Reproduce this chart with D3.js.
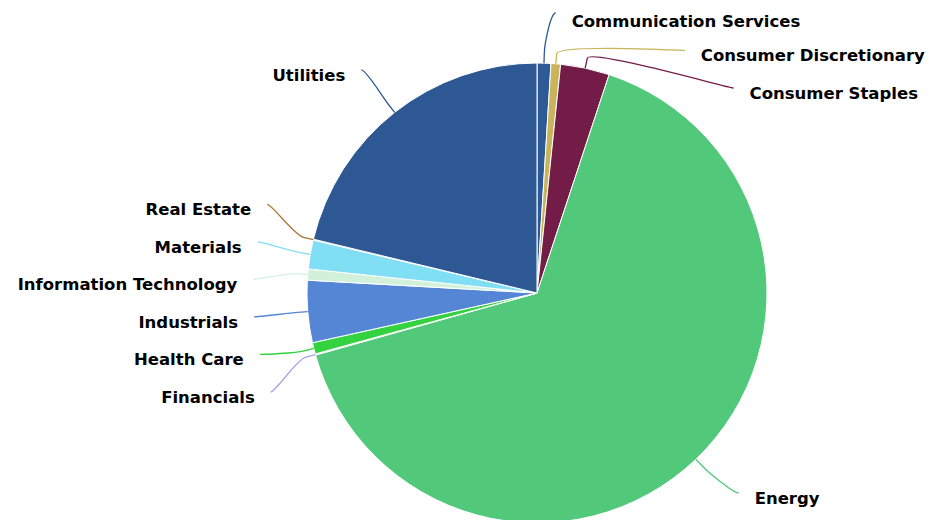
<!DOCTYPE html>
<html>
<head>
<meta charset="utf-8">
<script src="https://cdn.jsdelivr.net/npm/d3@7"></script>
<style>
  body { margin: 0; background: #fff; }
  .lbl { font-family: "DejaVu Sans", sans-serif; font-weight: bold; font-size: 16.5px; fill: #000; }
</style>
</head>
<body>
<svg id="chart" width="935" height="520"></svg>
<script>
// Portfolio weight by GICS sector (%)
const sectors = [
  "Communication Services", "Consumer Discretionary", "Consumer Staples", "Energy",
  "Financials", "Health Care", "Industrials", "Information Technology",
  "Materials", "Real Estate", "Utilities"
];
const weights = [0.97, 0.67, 3.44, 65.6, 0.08, 0.8, 4.36, 0.78, 2.03, 0.06, 21.25];
const sectorColors = [
  "#2d5a97", "#c9b45c", "#741c48", "#52c87a",
  "#a3a3ea", "#33d23e", "#5586d5", "#d2f1db",
  "#80def5", "#a77a33", "#2d5894"
];

const width = 935, height = 520;
const cx = 537, cy = 293, radius = 230;
const labelRadius = 284;   // where connectors end
const slotHeight = 37.5;   // vertical room per label
const yMin = 13, yMax = 493;

const svg = d3.select("#chart");
const g = svg.append("g").attr("transform", `translate(${cx},${cy})`);

const arcs = d3.pie().sort(null).value(d => d)(weights);
const arcGen = d3.arc().innerRadius(0).outerRadius(radius);

g.selectAll("path.slice")
  .data(arcs)
  .join("path")
  .attr("class", "slice")
  .attr("d", arcGen)
  .attr("fill", (d, i) => sectorColors[i])
  .attr("stroke", "#fff")
  .attr("stroke-width", 1)
  .attr("stroke-linejoin", "round");

// label placement: natural position on the outer circle, then spread vertically per side
const items = arcs.map((a, i) => {
  const mid = (a.startAngle + a.endAngle) / 2;
  return {
    i, mid,
    side: mid < Math.PI ? 1 : -1,
    target: -labelRadius * Math.cos(mid)
  };
});

function distribute(list) {
  list.sort((a, b) => a.target - b.target);
  let clusters = list.map(it => ({ items: [it], sum: it.target }));
  const place = c => {
    const n = c.items.length;
    let top = c.sum / n - (n - 1) * slotHeight / 2;
    c.pinnedTop = top < yMin - cy;
    top = Math.max(top, yMin - cy);
    top = Math.min(top, yMax - cy - (n - 1) * slotHeight);
    c.top = top;
  };
  clusters.forEach(place);
  let merged = true;
  while (merged) {
    merged = false;
    for (let k = 0; k < clusters.length - 1; k++) {
      const a = clusters[k], b = clusters[k + 1];
      if (a.top + a.items.length * slotHeight > b.top + 0.001) {
        const c = { items: a.items.concat(b.items), sum: a.sum + b.sum };
        place(c);
        clusters.splice(k, 2, c);
        merged = true;
        break;
      }
    }
  }
  clusters.forEach(c => c.items.forEach((it, j) => {
    it.y = c.top + j * slotHeight;
    it.pinned = c.pinnedTop && j === 0;
  }));
}

distribute(items.filter(d => d.side === 1));
distribute(items.filter(d => d.side === -1));

items.forEach(it => {
  if (it.pinned) {
    // a label held at the top edge stays near its own slice
    it.x = labelRadius * Math.sin(it.mid) + it.side * 10;
  } else {
    it.x = it.side * Math.sqrt(Math.max(0, labelRadius * labelRadius - it.y * it.y));
  }
});

// soft connectors: label end -> curve -> break point just outside the slice -> slice edge
const pt = (ang, rr) => [Math.sin(ang) * rr, -Math.cos(ang) * rr];
g.selectAll("path.connector")
  .data(items)
  .join("path")
  .attr("class", "connector")
  .attr("fill", "none")
  .attr("stroke", d => sectorColors[d.i])
  .attr("stroke-width", 1.3)
  .attr("d", d => {
    const t = pt(d.mid, radius);
    const b = pt(d.mid, radius + 10);
    const p = d3.path();
    p.moveTo(d.x, d.y);
    p.bezierCurveTo(d.x - d.side * 5, d.y, 2 * b[0] - t[0], 2 * b[1] - t[1], b[0], b[1]);
    p.lineTo(t[0], t[1]);
    return p.toString();
  });

g.selectAll("text.lbl")
  .data(items)
  .join("text")
  .attr("class", "lbl")
  .attr("x", d => d.x + d.side * 16)
  .attr("y", d => d.y + (d.pinned ? 8 : 5))
  .attr("dy", "0.35em")
  .attr("text-anchor", d => d.side === 1 ? "start" : "end")
  .text(d => sectors[d.i]);
</script>
</body>
</html>
